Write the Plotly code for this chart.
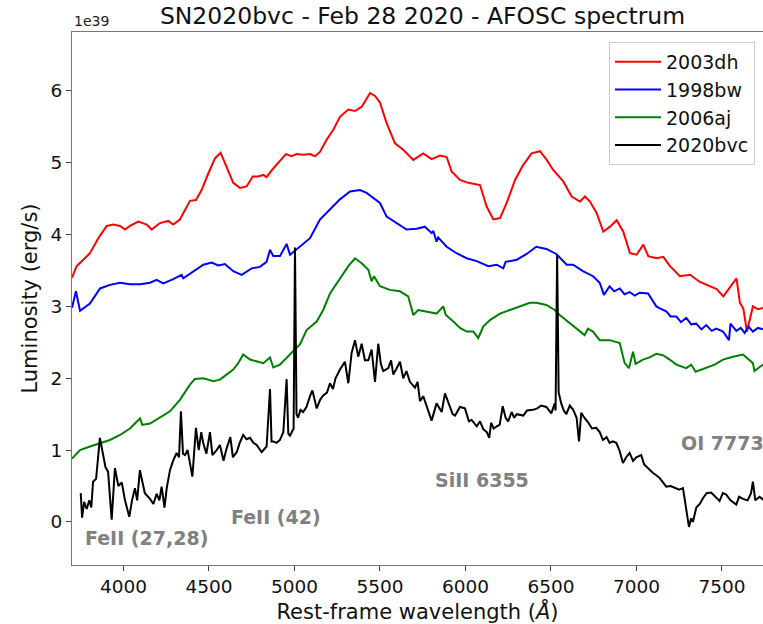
import plotly.graph_objects as go

# ---------------- data (wavelength in Angstrom, luminosity in 1e39 erg/s) ----------------
wl_2003dh = [3699, 3726, 3765, 3804, 3853, 3902, 3940, 3980, 4009, 4038, 4087, 4136, 4165, 4213, 4262,
             4291, 4330, 4360, 4389, 4424, 4457, 4496, 4535, 4568, 4603, 4642, 4681, 4720, 4756, 4788,
             4818, 4837, 4876, 4915, 4950, 4983, 5013, 5051, 5091, 5120, 5149, 5188, 5227, 5266, 5315,
             5354, 5393, 5442, 5471, 5500, 5539, 5588, 5636, 5695, 5753, 5802, 5851, 5890, 5919, 5968,
             6017, 6085, 6124, 6163, 6202, 6241, 6290, 6338, 6387, 6436, 6475, 6513, 6572, 6621, 6670,
             6699, 6728, 6767, 6806, 6845, 6884, 6923, 6962, 7001, 7040, 7069, 7118, 7157, 7196, 7254,
             7313, 7371, 7430, 7469, 7508, 7537, 7566, 7585, 7605, 7625, 7646, 7662, 7681, 7710, 7740]
lum_2003dh = [3.40, 3.56, 3.65, 3.74, 3.95, 4.12, 4.14, 4.12, 4.07, 4.12, 4.18, 4.14, 4.07, 4.16, 4.19,
              4.14, 4.21, 4.34, 4.47, 4.48, 4.62, 4.85, 5.06, 5.14, 4.95, 4.72, 4.65, 4.67, 4.81, 4.81,
              4.83, 4.80, 4.92, 5.03, 5.12, 5.09, 5.12, 5.11, 5.12, 5.09, 5.15, 5.32, 5.46, 5.64, 5.74,
              5.72, 5.78, 5.97, 5.93, 5.84, 5.55, 5.27, 5.18, 5.04, 5.13, 5.05, 5.10, 5.08, 4.88, 4.76,
              4.72, 4.69, 4.39, 4.21, 4.23, 4.44, 4.76, 4.97, 5.13, 5.16, 5.04, 4.90, 4.74, 4.53, 4.46,
              4.53, 4.46, 4.30, 4.04, 4.11, 4.20, 4.04, 3.74, 3.72, 3.86, 3.70, 3.67, 3.69, 3.56, 3.42,
              3.44, 3.34, 3.28, 3.24, 3.14, 3.24, 3.34, 3.39, 3.05, 2.97, 2.65, 2.80, 3.00, 2.96, 2.98]

wl_1998bw = [3699, 3722, 3746, 3804, 3863, 3921, 3980, 4038, 4097, 4155, 4194, 4233, 4291, 4340, 4350,
             4408, 4467, 4516, 4554, 4593, 4642, 4691, 4750, 4798, 4837, 4857, 4876, 4915, 4954, 4974,
             5032, 5091, 5149, 5208, 5266, 5325, 5383, 5422, 5471, 5500, 5539, 5597, 5656, 5714, 5763,
             5802, 5812, 5831, 5840, 5890, 5948, 6007, 6066, 6134, 6183, 6221, 6235, 6300, 6358, 6414,
             6473, 6531, 6592, 6629, 6687, 6746, 6785, 6810, 6843, 6870, 6902, 6930, 6960, 6990, 7019,
             7068, 7116, 7140, 7174, 7200, 7233, 7260, 7291, 7320, 7350, 7380, 7408, 7440, 7467, 7506,
             7541, 7550, 7584, 7610, 7633, 7655, 7681, 7710, 7740]
lum_1998bw = [2.98, 3.21, 2.94, 3.04, 3.25, 3.30, 3.33, 3.31, 3.31, 3.33, 3.37, 3.32, 3.38, 3.44, 3.39,
              3.49, 3.58, 3.61, 3.57, 3.59, 3.49, 3.44, 3.53, 3.55, 3.62, 3.79, 3.70, 3.70, 3.87, 3.72,
              3.83, 3.95, 4.21, 4.35, 4.49, 4.60, 4.62, 4.58, 4.49, 4.44, 4.25, 4.16, 4.07, 4.08, 4.11,
              4.02, 4.05, 3.90, 3.96, 3.83, 3.74, 3.67, 3.63, 3.56, 3.58, 3.53, 3.62, 3.65, 3.73, 3.83,
              3.80, 3.73, 3.58, 3.58, 3.49, 3.42, 3.33, 3.16, 3.28, 3.21, 3.25, 3.17, 3.20, 3.15, 3.19,
              3.18, 3.00, 2.97, 2.93, 2.86, 2.86, 2.78, 2.84, 2.75, 2.76, 2.68, 2.74, 2.66, 2.69, 2.65,
              2.53, 2.76, 2.66, 2.70, 2.63, 2.72, 2.65, 2.70, 2.68]

wl_2006aj = [3699, 3746, 3804, 3863, 3921, 3980, 4038, 4097, 4110, 4155, 4213, 4272, 4330, 4360, 4389,
             4418, 4467, 4525, 4564, 4603, 4642, 4671, 4700, 4740, 4779, 4818, 4857, 4876, 4915, 4954,
             4993, 5032, 5071, 5130, 5168, 5208, 5266, 5315, 5354, 5393, 5432, 5451, 5465, 5500, 5558,
             5617, 5665, 5695, 5724, 5773, 5831, 5870, 5885, 5929, 5968, 6007, 6046, 6075, 6104, 6143,
             6202, 6260, 6319, 6377, 6414, 6473, 6522, 6551, 6697, 6716, 6746, 6785, 6843, 6902, 6931,
             6956, 6980, 6995, 7038, 7077, 7116, 7155, 7194, 7233, 7291, 7320, 7346, 7457, 7506, 7564,
             7623, 7681, 7690, 7740]
lum_2006aj = [0.88, 1.00, 1.05, 1.09, 1.14, 1.21, 1.30, 1.44, 1.35, 1.37, 1.46, 1.54, 1.70, 1.81, 1.91,
              1.99, 2.00, 1.96, 1.98, 2.05, 2.12, 2.21, 2.33, 2.26, 2.24, 2.21, 2.29, 2.15, 2.19, 2.29,
              2.38, 2.47, 2.67, 2.79, 2.95, 3.18, 3.39, 3.56, 3.67, 3.60, 3.51, 3.35, 3.42, 3.28, 3.23,
              3.21, 3.14, 2.88, 2.95, 2.93, 2.90, 3.00, 2.88, 2.79, 2.70, 2.65, 2.65, 2.56, 2.72, 2.81,
              2.90, 2.95, 3.00, 3.05, 3.05, 3.02, 2.95, 2.88, 2.60, 2.69, 2.65, 2.53, 2.53, 2.49, 2.21,
              2.14, 2.37, 2.20, 2.26, 2.29, 2.34, 2.32, 2.26, 2.19, 2.14, 2.19, 2.09, 2.19, 2.26, 2.30,
              2.33, 2.21, 2.10, 2.19]

wl_2020bvc = [3750, 3758, 3770, 3785, 3800, 3812, 3822, 3840, 3862, 3880, 3895, 3910, 3931, 3950, 3970,
              3990, 4009, 4034, 4050, 4067, 4080, 4096, 4110, 4125, 4155, 4175, 4194, 4210, 4223, 4240,
              4253, 4272, 4290, 4311, 4325, 4336, 4348, 4360, 4375, 4389, 4403, 4424, 4440, 4455, 4467,
              4485, 4506, 4520, 4545, 4564, 4585, 4603, 4625, 4640, 4662, 4680, 4700, 4720, 4740, 4760,
              4779, 4808, 4837, 4857, 4866, 4876, 4895, 4915, 4935, 4954, 4964, 4974, 4995, 5003, 5012,
              5021, 5035, 5051, 5070, 5091, 5105, 5130, 5150, 5168, 5190, 5208, 5225, 5240, 5266, 5295,
              5315, 5334, 5354, 5373, 5393, 5412, 5432, 5451, 5471, 5490, 5505, 5519, 5549, 5565, 5578,
              5600, 5617, 5636, 5655, 5675, 5705, 5720, 5734, 5753, 5782, 5802, 5831, 5861, 5880, 5909,
              5925, 5939, 5968, 5997, 6020, 6036, 6066, 6085, 6104, 6125, 6139, 6150, 6165, 6183, 6200,
              6218, 6235, 6250, 6270, 6285, 6300, 6338, 6360, 6395, 6420, 6443, 6473, 6502, 6522, 6527,
              6536, 6545, 6560, 6575, 6590, 6610, 6630, 6650, 6664, 6677, 6695, 6716, 6740, 6765, 6785,
              6804, 6825, 6843, 6862, 6882, 6900, 6921, 6940, 6960, 6980, 6999, 7028, 7045, 7057, 7077,
              7097, 7116, 7136, 7155, 7174, 7200, 7223, 7250, 7272, 7291, 7307, 7320, 7330, 7350, 7370,
              7389, 7410, 7437, 7460, 7486, 7505, 7525, 7550, 7584, 7600, 7623, 7650, 7670, 7681, 7695,
              7720, 7740]
lum_2020bvc = [0.40, 0.06, 0.28, 0.18, 0.30, 0.20, 0.56, 0.60, 1.17, 0.95, 0.76, 0.70, 0.03, 0.75, 0.50,
               0.55, 0.30, 0.07, 0.30, 0.47, 0.30, 0.72, 0.55, 0.40, 0.32, 0.25, 0.39, 0.30, 0.49, 0.20,
               0.47, 0.72, 0.85, 0.96, 0.90, 1.54, 0.95, 0.93, 1.00, 0.83, 0.63, 1.31, 1.00, 1.25, 1.09,
               0.95, 1.25, 0.93, 1.00, 1.07, 0.85, 1.02, 1.18, 0.90, 0.97, 1.10, 1.21, 1.15, 1.17, 1.10,
               1.07, 0.97, 1.05, 1.85, 1.12, 1.12, 1.10, 1.14, 1.25, 1.99, 1.23, 1.20, 1.30, 3.82, 1.50,
               1.45, 1.56, 1.53, 1.60, 1.75, 1.83, 1.58, 1.70, 1.76, 1.80, 1.93, 1.85, 2.00, 2.12, 2.23,
               1.93, 2.35, 2.53, 2.30, 2.48, 2.25, 2.25, 2.40, 1.95, 2.48, 2.20, 2.10, 2.14, 2.25, 2.05,
               2.15, 2.23, 2.00, 2.10, 1.95, 1.87, 1.95, 1.68, 1.75, 1.53, 1.41, 1.65, 1.53, 1.79, 1.62,
               1.50, 1.48, 1.60, 1.58, 1.40, 1.42, 1.33, 1.40, 1.29, 1.25, 1.17, 1.38, 1.30, 1.33, 1.35,
               1.61, 1.45, 1.40, 1.53, 1.45, 1.50, 1.48, 1.55, 1.56, 1.58, 1.62, 1.60, 1.51, 1.65, 1.55,
               3.72, 1.80, 1.65, 1.55, 1.50, 1.62, 1.56, 1.45, 1.12, 1.52, 1.45, 1.39, 1.30, 1.31, 1.25,
               1.14, 1.18, 1.10, 1.12, 1.10, 1.00, 0.82, 0.90, 0.96, 0.85, 0.90, 0.93, 0.80, 0.77, 0.72,
               0.68, 0.65, 0.61, 0.55, 0.49, 0.50, 0.48, 0.45, 0.47, 0.21, -0.07, 0.05, 0.00, 0.20, 0.25,
               0.33, 0.40, 0.41, 0.35, 0.29, 0.40, 0.38, 0.30, 0.24, 0.35, 0.32, 0.30, 0.40, 0.56, 0.30,
               0.35, 0.31]

series_names = ["2003dh", "1998bw", "2006aj", "2020bvc"]
series_colors = ["#ff0000", "#0000ff", "#008000", "#000000"]

line_labels = ["FeII (27,28)", "FeII (42)", "SiII 6355", "OI 7773"]
line_label_x = [4137, 4894, 6095, 7248]
line_label_y = [-0.22, 0.07, 0.585, 1.10]
line_label_anchor = ["center", "center", "center", "left"]

title_text = "SN2020bvc - Feb 28 2020 - AFOSC spectrum"
x_title = "Rest-frame wavelength (<i>Å</i>)"
y_title = "Luminosity (erg/s)"
x_ticks = [4000, 4500, 5000, 5500, 6000, 6500, 7000, 7500]
y_ticks = [0, 1, 2, 3, 4, 5, 6]

FONT = "DejaVu Sans"

fig = go.Figure()
xs = [wl_2003dh, wl_1998bw, wl_2006aj, wl_2020bvc]
ys = [lum_2003dh, lum_1998bw, lum_2006aj, lum_2020bvc]
for name, col, x, y in zip(series_names, series_colors, xs, ys):
    fig.add_trace(go.Scatter(x=x, y=y, mode="lines", name=name,
                             line=dict(color=col, width=2)))

for txt, lx, ly, anc in zip(line_labels, line_label_x, line_label_y, line_label_anchor):
    fig.add_annotation(x=lx, y=ly, xref="x", yref="y", text="<b>" + txt + "</b>",
                       showarrow=False, xanchor=anc, yanchor="middle",
                       font=dict(family=FONT, size=19, color="#808080"))

fig.add_annotation(x=0, y=1, xref="paper", yref="paper", text="1e39", showarrow=False,
                   xanchor="left", yanchor="bottom", yshift=1,
                   font=dict(family=FONT, size=14, color="#222"))

fig.update_layout(
    width=763, height=624,
    margin=dict(l=72, r=0, t=32, b=59),
    paper_bgcolor="white", plot_bgcolor="white",
    title=dict(text=title_text, x=(157 + 688) / 2 / 763, xanchor="center",
               y=1 - 16 / 624, yanchor="middle",
               font=dict(family=FONT, size=23.5, color="#111")),
    font=dict(family=FONT, color="#111"),
    showlegend=True,
    legend=dict(x=(609 - 72) / 691, y=1 - (42 - 32) / 533, xanchor="left", yanchor="top",
                bgcolor="rgba(255,255,255,0.85)", bordercolor="#cccccc", borderwidth=1,
                itemwidth=46,
                font=dict(family=FONT, size=19, color="#111")),
    xaxis=dict(range=[3699, 7740], tickvals=x_ticks, ticks="outside", ticklen=5, tickwidth=1,
               tickcolor="#444", showline=True, linecolor="#777", linewidth=1.2, mirror=True,
               showgrid=False, zeroline=False,
               tickfont=dict(family=FONT, size=18.5, color="#111"),
               title=dict(text=x_title, font=dict(family=FONT, size=21, color="#111"), standoff=8)),
    yaxis=dict(range=[-0.60, 6.82], tickvals=y_ticks, ticks="outside", ticklen=5, tickwidth=1,
               tickcolor="#444", showline=True, linecolor="#777", linewidth=1.2,
               showgrid=False, zeroline=False,
               tickfont=dict(family=FONT, size=18.5, color="#111"),
               title=dict(text=y_title, font=dict(family=FONT, size=21, color="#111"), standoff=7)),
)

fig.write_html("out.html")
